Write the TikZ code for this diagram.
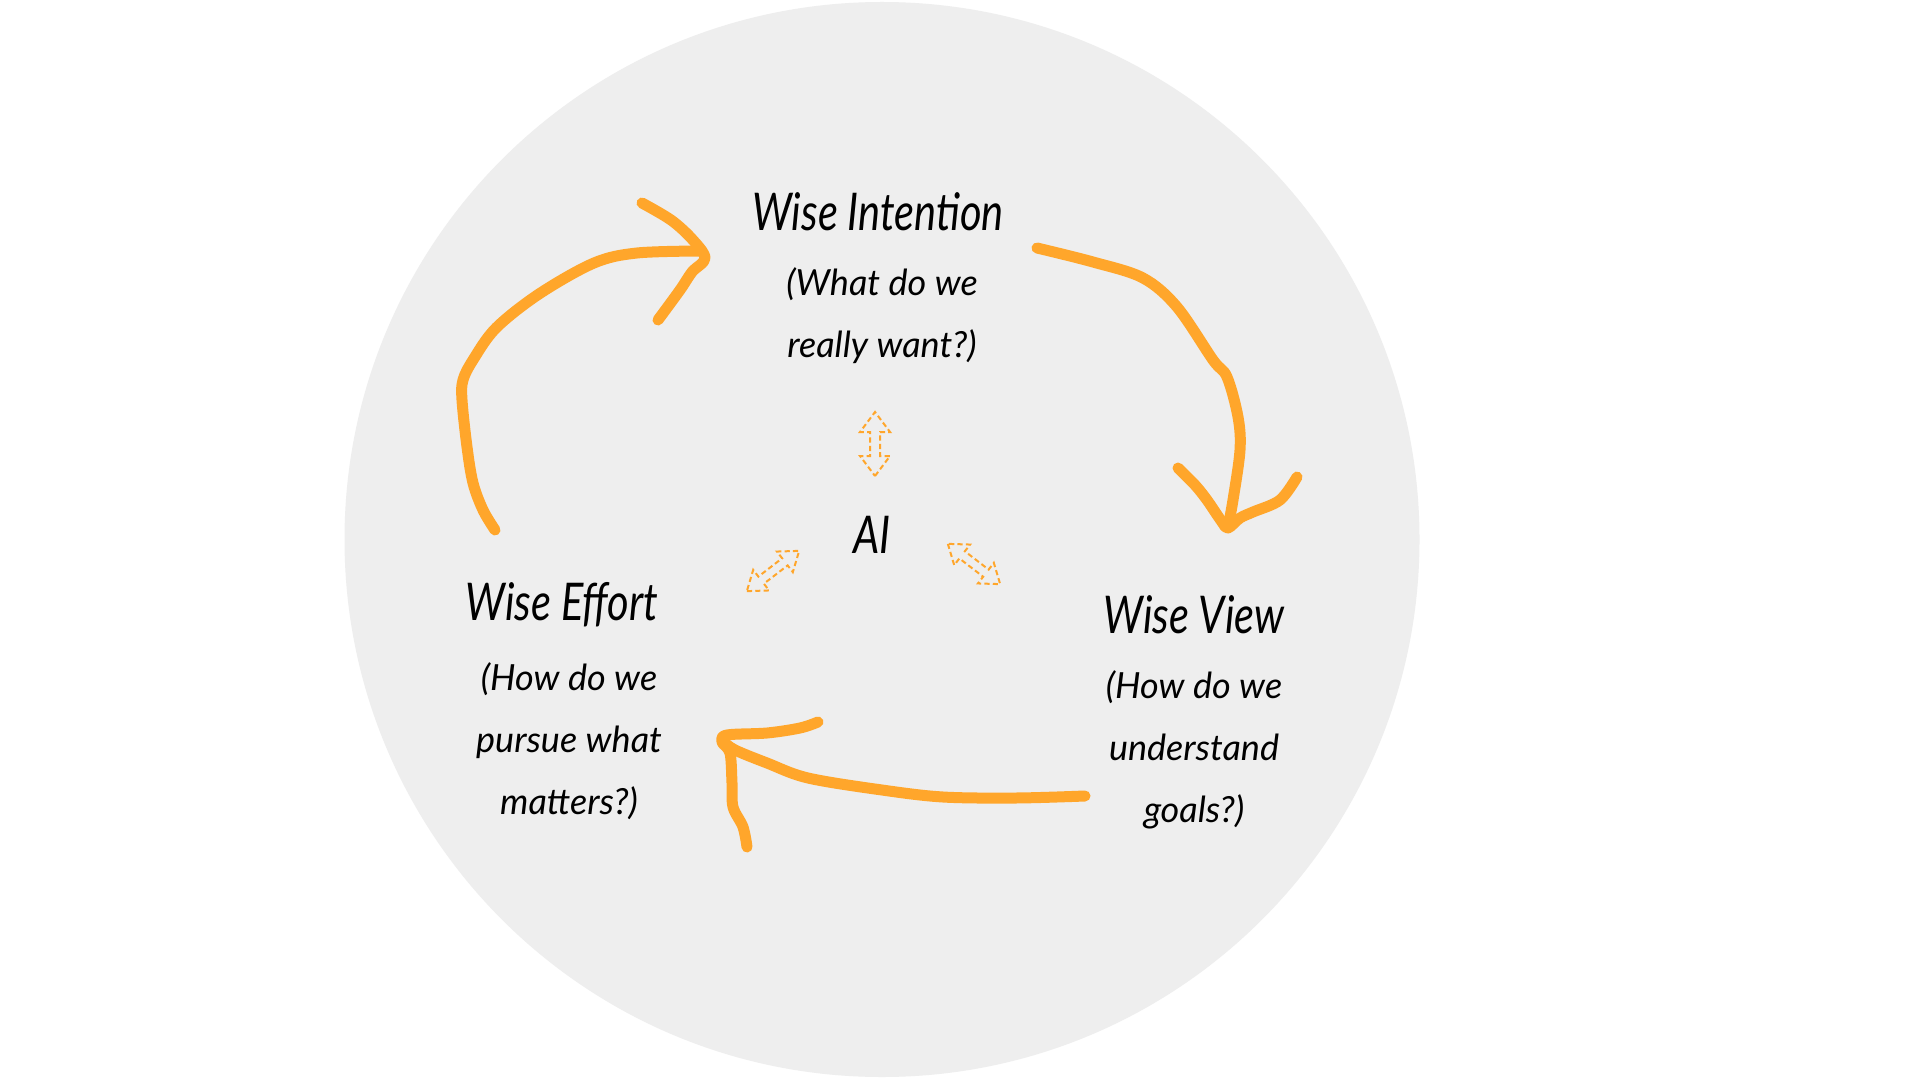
\documentclass[tikz,border=0pt]{standalone}
\usepackage{fontspec}
\setmainfont{Lato}
\newfontfamily\hand{Lato}[FakeStretch=0.8]
\newfontfamily\handsub{Lato}
\begin{document}
\begin{tikzpicture}[x=0.5pt,y=-0.5pt,
  every node/.style={inner sep=0pt, text=black},
  title/.style={font=\hand\itshape\fontsize{26}{30}\selectfont},
  sub/.style={font=\handsub\itshape\fontsize{18}{31}\selectfont, align=center},
  loop/.style={draw=arrowor, line width=5.5pt, line cap=round, line join=round},
  dbl/.style={draw=arrowor, line width=1pt, dash pattern=on 2.6pt off 1.6pt, line join=miter}
]
\definecolor{arrowor}{HTML}{FFA62B}
\definecolor{bgc}{HTML}{EEEEEE}
\useasboundingbox (0,0) rectangle (1920,1080);
\fill[white] (0,0) rectangle (1920,1080);
\fill[bgc] (882,539.5) circle[radius=537.5];

% texts
\node[title] (int) at (878,212) {Wise Intention};
\node[sub] (intq) at (882,316) {(What do we\\really want?)};
\node[title] (ai) at (872,535) {AI};
\node[title] (eff) at (562,605) {Wise Effort};
\node[sub] (effq) at (569,741) {(How do we\\pursue what\\matters?)};
\node[title] (view) at (1194,615) {Wise View};
\node[sub] (viewq) at (1194,750) {(How do we\\understand\\goals?)};

% loop arrows
\draw[loop] plot[smooth, tension=0.55] coordinates {(495,530) (483,510) (473,483) (467,447) (462,400) (463,380) (473,360) (496,328) (539,294) (594,263) (637,253) (702,251)};
\draw[loop] plot[smooth, tension=0.55] coordinates {(642,203) (671,220) (692,239) (705,258) (692,272) (680,290) (658,320)};

\draw[loop] plot[smooth, tension=0.55] coordinates {(1037,248) (1093,262) (1143,278) (1177,307) (1213,360) (1227,377) (1238,417) (1240,450) (1233,500) (1228,527)};
\draw[loop] plot[smooth, tension=0.55] coordinates {(1178,468) (1195,485) (1207,500) (1222,522) (1228,528) (1240,518) (1253,512) (1280,500) (1297,477)};

\draw[loop] plot[smooth, tension=0.55] coordinates {(1085,796) (1016,798) (943,797) (882,790) (808,778) (767,763) (735,750) (724,742)};
\draw[loop] plot[smooth, tension=0.55] coordinates {(818,722) (800,728) (767,733) (727,735) (722,742) (730,753) (732,783) (733,807) (743,827) (747,847)};

% dashed double arrows
\begin{scope}[shift={(875,444)}, rotate=90]
\draw[dbl] (-32,0) -- (-12,15) -- (-12,5) -- (12,5) -- (12,15) -- (32,0) -- (12,-15) -- (12,-5) -- (-12,-5) -- (-12,-15) -- cycle;
\end{scope}
\begin{scope}[shift={(773,571)}, rotate=37.6]
\draw[dbl] (-33,0) -- (-15,13) -- (-15,4.5) -- (15,4.5) -- (15,13) -- (33,0) -- (15,-13) -- (15,-4.5) -- (-15,-4.5) -- (-15,-13) -- cycle;
\end{scope}
\begin{scope}[shift={(974,564)}, rotate=-37.6]
\draw[dbl] (-33,0) -- (-15,13) -- (-15,4.5) -- (15,4.5) -- (15,13) -- (33,0) -- (15,-13) -- (15,-4.5) -- (-15,-4.5) -- (-15,-13) -- cycle;
\end{scope}
\end{tikzpicture}
\end{document}
